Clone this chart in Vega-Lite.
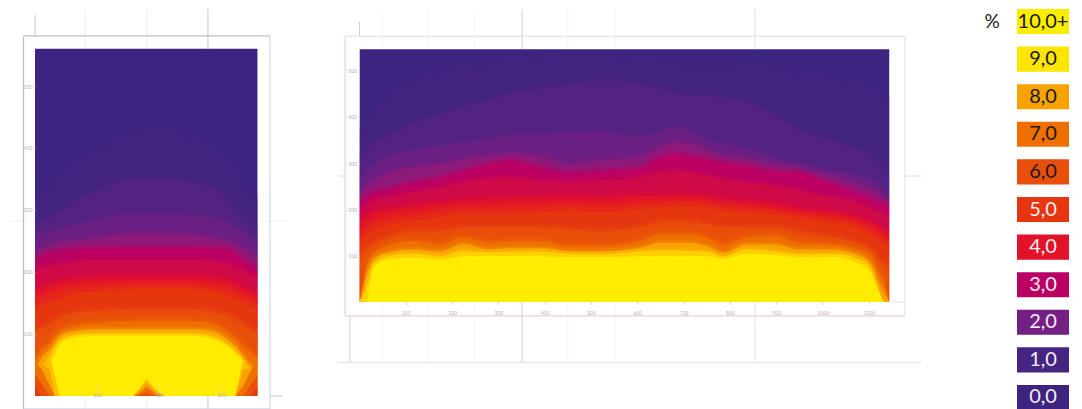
{"$schema":"https://vega.github.io/schema/vega-lite/v6.json","background":"white","padding":{"left":9,"top":8,"right":0,"bottom":0},"spacing":48,"resolve":{"scale":{"color":"independent","stroke":"independent"}},"config":{"view":{"stroke":null},"font":"Lato"},
"datasets":{
"leftLines":[
{"kind":"faint","x1":181,"x2":181,"y1":-22,"y2":624},{"kind":"faint","x1":81,"x2":81,"y1":-22,"y2":624},{"kind":"faint","x1":-40,"x2":408,"y1":282,"y2":282},
{"kind":"mid","x1":279,"x2":279,"y1":-22,"y2":624},{"kind":"mid","x1":0,"x2":0,"y1":581,"y2":615},{"kind":"mid","x1":379,"x2":400,"y1":0,"y2":0},
{"kind":"frame","x1":-18.5,"x2":-18.5,"y1":-21,"y2":581},{"kind":"frame","x1":-18.5,"x2":379,"y1":581,"y2":581},{"kind":"edge","x1":379,"x2":379,"y1":-21,"y2":581},{"kind":"edge","x1":-18.5,"x2":379,"y1":-21,"y2":-21}],
"leftMask":[{"x1":-5.6,"y1":0,"y2":560},{"x1":365,"y1":0,"y2":560}],
"rightMask":[{"x1":-7.6,"y1":0,"y2":546},{"x1":1152,"y1":0,"y2":546}],
"rightLines":[
{"kind":"faint","x1":49,"x2":49,"y1":-131,"y2":632},{"kind":"faint","x1":148,"x2":148,"y1":-131,"y2":632},{"kind":"faint","x1":249,"x2":249,"y1":-131,"y2":632},{"kind":"faint","x1":450,"x2":450,"y1":-131,"y2":632},{"kind":"faint","x1":552,"x2":552,"y1":-131,"y2":632},
{"kind":"mid","x1":351,"x2":351,"y1":-131,"y2":632},{"kind":"soft","x1":854,"x2":854,"y1":-131,"y2":632},{"kind":"soft","x1":-46,"x2":1214,"y1":-131,"y2":-131},{"kind":"soft","x1":1178,"x2":1214,"y1":272,"y2":272},{"kind":"soft","x1":-46,"x2":-31,"y1":272,"y2":272},
{"kind":"mid","x1":0,"x2":0,"y1":574,"y2":605},{"kind":"mid","x1":-20.5,"x2":-20.5,"y1":-30,"y2":-130},{"kind":"soft","x1":1145,"x2":1178,"y1":0,"y2":0},
{"kind":"pink","x1":-31,"x2":-31,"y1":-30,"y2":574},{"kind":"pink","x1":-31,"x2":1178,"y1":-30,"y2":-30},{"kind":"soft","x1":1178,"x2":1178,"y1":-30,"y2":574},{"kind":"soft","x1":-31,"x2":1178,"y1":574,"y2":574}],
"left":[
{"x":0,"b":560,"l10":323,"l15":280,"l20":258,"l25":231,"l30":220,"l35":202,"l40":172,"l45":159,"l50":142,"l60":105,"l70":60,"l80":38,"l90":0,"l100":0,"n9":30,"n8":40,"n7":54,"n6":35,"n5":16},
{"x":11,"b":560,"l10":328,"l15":282,"l20":261,"l25":237,"l30":226,"l35":207,"l40":175,"l45":161,"l50":145,"l60":108,"l70":75,"l80":62,"l90":40,"l100":0,"n9":48,"n8":52,"n7":43,"n6":19,"n5":0},
{"x":24,"b":560,"l10":339,"l15":288,"l20":263,"l25":242,"l30":231,"l35":210,"l40":180,"l45":167,"l50":151,"l60":116,"l70":86,"l80":75,"l90":62,"l100":54,"n9":65,"n8":43,"n7":16,"n6":0,"n5":0},
{"x":32,"b":560,"l10":344,"l15":292,"l20":266,"l25":245,"l30":233,"l35":211,"l40":183,"l45":170,"l50":154,"l60":121,"l70":97,"l80":86,"l90":78,"l100":67,"n9":32,"n8":0,"n7":0,"n6":0,"n5":0},
{"x":40,"b":560,"l10":349,"l15":296,"l20":269,"l25":247,"l30":234,"l35":212,"l40":185,"l45":172,"l50":156,"l60":126,"l70":105,"l80":97,"l90":89,"l100":83,"n9":0,"n8":0,"n7":0,"n6":0,"n5":0},
{"x":62,"b":560,"l10":371,"l15":312,"l20":274,"l25":250,"l30":237,"l35":215,"l40":188,"l45":176,"l50":163,"l60":134,"l70":113,"l80":105,"l90":98,"l100":94,"n9":0,"n8":0,"n7":0,"n6":0,"n5":0},
{"x":105,"b":560,"l10":395,"l15":333,"l20":285,"l25":255,"l30":239,"l35":218,"l40":191,"l45":180,"l50":169,"l60":137,"l70":118,"l80":108,"l90":101,"l100":97,"n9":0,"n8":0,"n7":0,"n6":0,"n5":0},
{"x":159,"b":560,"l10":422,"l15":349,"l20":293,"l25":261,"l30":240,"l35":218,"l40":191,"l45":182,"l50":172,"l60":139,"l70":121,"l80":108,"l90":101,"l100":97,"n9":0,"n8":0,"n7":0,"n6":0,"n5":0},
{"x":167,"b":560,"l10":422,"l15":349,"l20":293,"l25":261,"l30":240,"l35":218,"l40":191,"l45":182,"l50":172,"l60":139,"l70":121,"l80":108,"l90":101,"l100":97,"n9":10,"n8":8,"n7":4,"n6":0,"n5":0},
{"x":180,"b":560,"l10":425,"l15":349,"l20":293,"l25":261,"l30":240,"l35":218,"l40":191,"l45":182,"l50":172,"l60":139,"l70":121,"l80":108,"l90":101,"l100":97,"n9":27,"n8":22,"n7":15,"n6":7,"n5":0},
{"x":194,"b":560,"l10":425,"l15":349,"l20":293,"l25":261,"l30":240,"l35":218,"l40":191,"l45":182,"l50":172,"l60":139,"l70":121,"l80":108,"l90":101,"l100":97,"n9":12,"n8":8,"n7":4,"n6":0,"n5":0},
{"x":207,"b":560,"l10":425,"l15":349,"l20":293,"l25":261,"l30":240,"l35":218,"l40":191,"l45":182,"l50":172,"l60":139,"l70":121,"l80":108,"l90":101,"l100":97,"n9":0,"n8":0,"n7":0,"n6":0,"n5":0},
{"x":255,"b":560,"l10":414,"l15":344,"l20":290,"l25":258,"l30":240,"l35":218,"l40":191,"l45":182,"l50":172,"l60":139,"l70":121,"l80":108,"l90":101,"l100":97,"n9":0,"n8":0,"n7":0,"n6":0,"n5":0},
{"x":288,"b":560,"l10":395,"l15":333,"l20":287,"l25":255,"l30":239,"l35":216,"l40":189,"l45":178,"l50":168,"l60":135,"l70":116,"l80":105,"l90":96,"l100":92,"n9":0,"n8":0,"n7":0,"n6":0,"n5":0},
{"x":314,"b":560,"l10":372,"l15":312,"l20":277,"l25":249,"l30":236,"l35":212,"l40":185,"l45":174,"l50":161,"l60":128,"l70":102,"l80":89,"l90":81,"l100":78,"n9":0,"n8":0,"n7":0,"n6":0,"n5":0},
{"x":323,"b":560,"l10":363,"l15":301,"l20":271,"l25":245,"l30":230,"l35":208,"l40":181,"l45":169,"l50":157,"l60":122,"l70":94,"l80":81,"l90":73,"l100":70,"n9":0,"n8":0,"n7":0,"n6":0,"n5":0},
{"x":336,"b":560,"l10":344,"l15":285,"l20":263,"l25":239,"l30":220,"l35":202,"l40":175,"l45":164,"l50":151,"l60":116,"l70":81,"l80":65,"l90":56,"l100":56,"n9":59,"n8":43,"n7":16,"n6":0,"n5":0},
{"x":349,"b":560,"l10":328,"l15":274,"l20":253,"l25":228,"l30":212,"l35":196,"l40":169,"l45":159,"l50":145,"l60":108,"l70":70,"l80":48,"l90":22,"l100":0,"n9":35,"n8":45,"n7":43,"n6":19,"n5":0},
{"x":359,"b":560,"l10":317,"l15":263,"l20":247,"l25":220,"l30":204,"l35":191,"l40":164,"l45":153,"l50":140,"l60":102,"l70":60,"l80":38,"l90":0,"l100":0,"n9":30,"n8":40,"n7":54,"n6":35,"n5":16}],
"right":[
{"x":0,"b":546,"l10":362,"l15":312,"l20":261,"l25":233,"l30":211,"l35":193,"l40":171,"l45":150,"l50":128,"l60":96,"l70":0,"l80":0,"l90":0,"l100":0},
{"x":14,"b":546,"l10":391,"l15":326,"l20":279,"l25":247,"l30":225,"l35":207,"l40":182,"l45":163,"l50":143,"l60":114,"l70":74,"l80":53,"l90":31,"l100":0},
{"x":29,"b":546,"l10":413,"l15":341,"l20":294,"l25":258,"l30":236,"l35":218,"l40":193,"l45":173,"l50":153,"l60":125,"l70":103,"l80":92,"l90":81,"l100":74},
{"x":59,"b":546,"l10":441,"l15":355,"l20":312,"l25":276,"l30":243,"l35":225,"l40":200,"l45":182,"l50":164,"l60":139,"l70":121,"l80":107,"l90":99,"l100":92},
{"x":116,"b":546,"l10":477,"l15":384,"l20":326,"l25":290,"l30":258,"l35":236,"l40":207,"l45":191,"l50":175,"l60":153,"l70":132,"l80":114,"l90":105,"l100":96},
{"x":174,"b":546,"l10":495,"l15":405,"l20":337,"l25":297,"l30":269,"l35":247,"l40":215,"l45":199,"l50":182,"l60":153,"l70":125,"l80":110,"l90":99,"l100":92},
{"x":224,"b":546,"l10":506,"l15":420,"l20":344,"l25":308,"l30":283,"l35":258,"l40":218,"l45":204,"l50":189,"l60":161,"l70":139,"l80":125,"l90":110,"l100":99},
{"x":282,"b":546,"l10":513,"l15":434,"l20":351,"l25":315,"l30":297,"l35":265,"l40":222,"l45":206,"l50":189,"l60":161,"l70":128,"l80":114,"l90":107,"l100":99},
{"x":325,"b":546,"l10":521,"l15":449,"l20":359,"l25":319,"l30":305,"l35":269,"l40":225,"l45":207,"l50":189,"l60":161,"l70":132,"l80":117,"l90":109,"l100":99},
{"x":390,"b":546,"l10":528,"l15":459,"l20":362,"l25":312,"l30":290,"l35":261,"l40":225,"l45":209,"l50":193,"l60":161,"l70":132,"l80":117,"l90":109,"l100":99},
{"x":455,"b":546,"l10":531,"l15":470,"l20":366,"l25":297,"l30":279,"l35":258,"l40":225,"l45":211,"l50":197,"l60":157,"l70":121,"l80":110,"l90":104,"l100":97},
{"x":520,"b":546,"l10":531,"l15":477,"l20":369,"l25":305,"l30":283,"l35":261,"l40":225,"l45":209,"l50":193,"l60":153,"l70":121,"l80":110,"l90":103,"l100":97},
{"x":606,"b":546,"l10":524,"l15":470,"l20":355,"l25":312,"l30":290,"l35":269,"l40":229,"l45":215,"l50":200,"l60":161,"l70":132,"l80":117,"l90":109,"l100":99},
{"x":649,"b":546,"l10":517,"l15":459,"l20":366,"l25":333,"l30":312,"l35":279,"l40":229,"l45":217,"l50":204,"l60":171,"l70":146,"l80":128,"l90":112,"l100":99},
{"x":681,"b":546,"l10":513,"l15":449,"l20":377,"l25":344,"l30":319,"l35":283,"l40":230,"l45":219,"l50":207,"l60":175,"l70":146,"l80":128,"l90":112,"l100":99},
{"x":714,"b":546,"l10":510,"l15":445,"l20":366,"l25":341,"l30":315,"l35":279,"l40":229,"l45":218,"l50":207,"l60":171,"l70":146,"l80":128,"l90":110,"l100":99},
{"x":751,"b":546,"l10":510,"l15":445,"l20":348,"l25":326,"l30":308,"l35":272,"l40":225,"l45":215,"l50":204,"l60":168,"l70":139,"l80":121,"l90":109,"l100":99},
{"x":785,"b":546,"l10":510,"l15":441,"l20":341,"l25":315,"l30":301,"l35":265,"l40":222,"l45":210,"l50":197,"l60":161,"l70":125,"l80":107,"l90":99,"l100":94},
{"x":837,"b":546,"l10":506,"l15":431,"l20":330,"l25":308,"l30":294,"l35":258,"l40":216,"l45":205,"l50":193,"l60":161,"l70":139,"l80":125,"l90":114,"l100":104},
{"x":893,"b":546,"l10":499,"l15":405,"l20":312,"l25":297,"l30":283,"l35":251,"l40":211,"l45":200,"l50":189,"l60":161,"l70":143,"l80":125,"l90":110,"l100":102},
{"x":951,"b":546,"l10":492,"l15":369,"l20":297,"l25":287,"l30":279,"l35":240,"l40":200,"l45":191,"l50":182,"l60":150,"l70":128,"l80":114,"l90":103,"l100":96},
{"x":1023,"b":546,"l10":481,"l15":348,"l20":283,"l25":269,"l30":254,"l35":225,"l40":193,"l45":182,"l50":171,"l60":139,"l70":125,"l80":114,"l90":105,"l100":97},
{"x":1075,"b":546,"l10":470,"l15":330,"l20":272,"l25":254,"l30":236,"l35":215,"l40":182,"l45":172,"l50":161,"l60":128,"l70":114,"l80":103,"l90":94,"l100":85},
{"x":1103,"b":546,"l10":459,"l15":319,"l20":265,"l25":243,"l30":225,"l35":204,"l40":171,"l45":159,"l50":146,"l60":114,"l70":103,"l80":85,"l90":76,"l100":67},
{"x":1118,"b":546,"l10":452,"l15":305,"l20":254,"l25":236,"l30":218,"l35":196,"l40":164,"l45":152,"l50":139,"l60":96,"l70":74,"l80":49,"l90":38,"l100":31},
{"x":1135,"b":546,"l10":441,"l15":283,"l20":236,"l25":222,"l30":211,"l35":189,"l40":153,"l45":139,"l50":125,"l60":81,"l70":38,"l80":17,"l90":0,"l100":0},
{"x":1145,"b":546,"l10":434,"l15":272,"l20":229,"l25":218,"l30":207,"l35":182,"l40":150,"l45":134,"l50":117,"l60":74,"l70":0,"l80":0,"l90":0,"l100":0}],
"swatches":[{"label":"10,0+","v":10},{"label":"9,0","v":9},{"label":"8,0","v":8},{"label":"7,0","v":7},{"label":"6,0","v":6},{"label":"5,0","v":5},{"label":"4,0","v":4},{"label":"3,0","v":3},{"label":"2,0","v":2},{"label":"1,0","v":1},{"label":"0,0","v":0}]},
"hconcat":[
{"width":278,"height":401,"layer":[
{"data":{"name":"leftLines"},"mark":{"type":"rule","strokeWidth":1.3},"encoding":{"x":{"field":"x1","type":"quantitative","title":null,"scale":{"domain":[-40.3,408.1],"nice":false,"zero":false},"axis":{"values":[100,200,300],"offset":-25,"orient":"bottom","domain":false,"grid":false,"zindex":1,"tickSize":2,"tickColor":"#D4D4DA","labelFontSize":5,"labelColor":"#B4B4BC","labelPadding":5,"format":"d","title":null}},"x2":{"field":"x2"},"y":{"field":"y1","type":"quantitative","title":null,"scale":{"domain":[-22.6,624.2],"nice":false,"zero":false},"axis":{"values":[100,200,300,400,500],"offset":-25,"orient":"left","domain":false,"grid":false,"zindex":1,"tickSize":2,"tickColor":"#D4D4DA","labelFontSize":5,"labelColor":"#B4B4BC","labelPadding":1,"format":"d","title":null}},"y2":{"field":"y2"},"stroke":{"field":"kind","type":"nominal","legend":null,"scale":{"domain":["faint","mid","frame","edge"],"range":["#F3F3F5","#D4D4DA","#BDBFCC","#D3D9E8"]}}}},
{"data":{"name":"left"},"transform":[{"fold":["b","l10","l15","l20","l25","l30","l35","l40","l45","l50","l60","l70","l80","l90","l100"]}],"mark":{"type":"area","interpolate":"monotone"},"encoding":{"x":{"field":"x","type":"quantitative"},"y":{"field":"value","type":"quantitative","stack":null},"y2":{"datum":0},"color":{"field":"key","type":"nominal","legend":null,"scale":{"domain":["b","l10","l15","l20","l25","l30","l35","l40","l45","l50","l60","l70","l80","l90","l100","n9","n8","n7","n6","n5"],"range":["#3C2480","#432480","#522383","#6A2084","#8D1B7A","#BB0064","#D00A48","#E3122B","#E5241D","#E6360F","#E94E0A","#EF7000","#F8A200","#FFD000","#FFEC00","#FCC000","#F8A200","#EF7000","#E94E0A","#E03A10"]}}}},
{"data":{"name":"left"},"transform":[{"fold":["l10","l15","l20","l25","l30","l35","l40","l45","l50","l60","l70"]},{"filter":"datum.value > 0"}],"mark":{"type":"line","strokeWidth":11,"opacity":0.16,"interpolate":"monotone"},"encoding":{"x":{"field":"x","type":"quantitative"},"y":{"field":"value","type":"quantitative","stack":null},"color":{"field":"key","type":"nominal","legend":null}}},
{"data":{"name":"left"},"transform":[{"fold":["l10","l15","l20","l25","l30","l35","l40","l45","l50","l60","l70","l80","l90"]},{"filter":"datum.value > 0"}],"mark":{"type":"line","strokeWidth":5,"opacity":0.28,"interpolate":"monotone"},"encoding":{"x":{"field":"x","type":"quantitative"},"y":{"field":"value","type":"quantitative","stack":null},"color":{"field":"key","type":"nominal","legend":null}}},
{"data":{"name":"left"},"transform":[{"fold":["n9","n8","n7","n6","n5"]}],"mark":{"type":"area","interpolate":"linear"},"encoding":{"x":{"field":"x","type":"quantitative"},"y":{"field":"value","type":"quantitative","stack":null},"y2":{"datum":0},"color":{"field":"key","type":"nominal","legend":null}}},
{"data":{"name":"leftMask"},"mark":{"type":"rule","strokeWidth":7,"color":"white"},"encoding":{"x":{"field":"x1","type":"quantitative"},"y":{"field":"y1","type":"quantitative"},"y2":{"field":"y2"}}},
{"mark":{"type":"text","fontSize":5,"color":"#B4B4BC","align":"left"},"encoding":{"x":{"datum":402,"type":"quantitative"},"y":{"datum":0,"type":"quantitative"},"text":{"value":"mm"}}}
]},
{"width":584,"height":354,"layer":[
{"data":{"name":"rightLines"},"mark":{"type":"rule","strokeWidth":1},"encoding":{"x":{"field":"x1","type":"quantitative","title":null,"scale":{"domain":[-46.4,1214.9],"nice":false,"zero":false},"axis":{"values":[100,200,300,400,500,600,700,800,900,1000,1100],"offset":-61,"orient":"bottom","domain":false,"grid":false,"zindex":1,"tickSize":2,"tickColor":"#E0C4C4","labelFontSize":5,"labelColor":"#B8B0B0","labelPadding":6,"format":"d","title":null}},"x2":{"field":"x2"},"y":{"field":"y1","type":"quantitative","title":null,"scale":{"domain":[-131.7,632.8],"nice":false,"zero":false},"axis":{"values":[100,200,300,400,500],"offset":-21.5,"orient":"left","domain":false,"grid":false,"zindex":1,"tickSize":2,"tickColor":"#E0C4C4","labelFontSize":5,"labelColor":"#B8B0B0","labelPadding":1,"format":"d","title":null}},"y2":{"field":"y2"},"stroke":{"field":"kind","type":"nominal","legend":null,"scale":{"domain":["faint","soft","mid","pink"],"range":["#F5F5F5","#E2DEDE","#CFCFCF","#EFC4C4"]}}}},
{"data":{"name":"right"},"transform":[{"fold":["b","l10","l15","l20","l25","l30","l35","l40","l45","l50","l60","l70","l80","l90","l100"]}],"mark":{"type":"area","interpolate":"monotone"},"encoding":{"x":{"field":"x","type":"quantitative"},"y":{"field":"value","type":"quantitative","stack":null},"y2":{"datum":0},"color":{"field":"key","type":"nominal","legend":null,"scale":{"domain":["b","l10","l15","l20","l25","l30","l35","l40","l45","l50","l60","l70","l80","l90","l100"],"range":["#3C2480","#432480","#522383","#6A2084","#8D1B7A","#BB0064","#D00A48","#E3122B","#E5241D","#E6360F","#E94E0A","#EF7000","#F8A200","#FFD000","#FFEC00"]}}}},
{"data":{"name":"right"},"transform":[{"fold":["l10","l15","l20","l25","l30","l35","l40","l45","l50","l60","l70"]},{"filter":"datum.value > 0"}],"mark":{"type":"line","strokeWidth":11,"opacity":0.16,"interpolate":"monotone"},"encoding":{"x":{"field":"x","type":"quantitative"},"y":{"field":"value","type":"quantitative","stack":null},"color":{"field":"key","type":"nominal","legend":null}}},
{"data":{"name":"right"},"transform":[{"fold":["l10","l15","l20","l25","l30","l35","l40","l45","l50","l60","l70","l80","l90"]},{"filter":"datum.value > 0"}],"mark":{"type":"line","strokeWidth":5,"opacity":0.28,"interpolate":"monotone"},"encoding":{"x":{"field":"x","type":"quantitative"},"y":{"field":"value","type":"quantitative","stack":null},"color":{"field":"key","type":"nominal","legend":null}}},
{"data":{"name":"rightMask"},"mark":{"type":"rule","strokeWidth":7,"color":"white"},"encoding":{"x":{"field":"x1","type":"quantitative"},"y":{"field":"y1","type":"quantitative"},"y2":{"field":"y2"}}},
{"mark":{"type":"text","fontSize":5,"color":"#B4B4BC","align":"left"},"encoding":{"x":{"datum":1182,"type":"quantitative"},"y":{"datum":0,"type":"quantitative"},"text":{"value":"mm"}}}
]},
{"width":98,"height":401,"data":{"name":"swatches"},"encoding":{"y":{"field":"label","type":"nominal","sort":null,"axis":null,"scale":{"paddingInner":0.3333,"paddingOuter":0}}},"layer":[
{"mark":{"type":"rect"},"encoding":{"x":{"datum":46,"type":"quantitative","scale":{"domain":[0,98],"nice":false,"zero":false},"axis":null},"x2":{"datum":98},"color":{"field":"label","type":"nominal","legend":null,"sort":null,"scale":{"domain":["10,0+","9,0","8,0","7,0","6,0","5,0","4,0","3,0","2,0","1,0","0,0"],"range":["#FFED00","#FFE600","#F8A200","#EF7000","#E94E0A","#E6360F","#E3122B","#BB0064","#731F83","#452581","#3C2480"]}}}},
{"mark":{"type":"text","fontSize":20,"font":"Lato","align":"center","baseline":"middle"},"encoding":{"x":{"datum":72,"type":"quantitative"},"text":{"field":"label"},"stroke":{"value":null},"fill":{"condition":{"test":"datum.v >= 6","value":"#1A1A1A"},"value":"#F7EEF5"}}},
{"transform":[{"filter":"datum.v == 10"}],"mark":{"type":"text","fontSize":19,"font":"Lato","align":"center","baseline":"middle","color":"#1A1A1A"},"encoding":{"x":{"datum":21,"type":"quantitative"},"text":{"value":"%"}}}
]}
]}
